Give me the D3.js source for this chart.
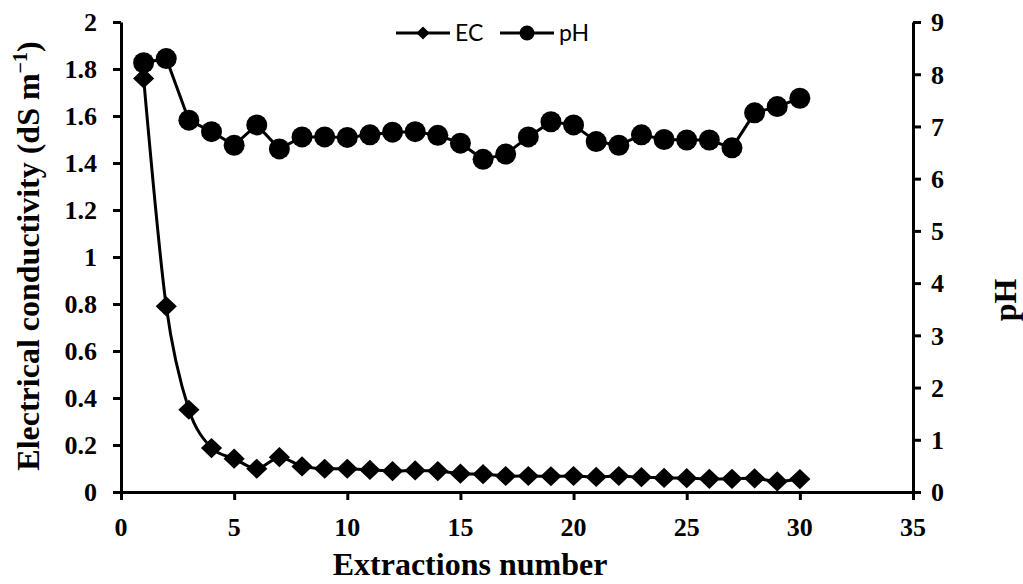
<!DOCTYPE html>
<html>
<head>
<meta charset="utf-8">
<script src="https://cdn.jsdelivr.net/npm/d3@7"></script>
<style>
  html, body { margin: 0; padding: 0; background: #fff; }
  svg { display: block; }
  .lbl { font-family: "Liberation Serif", "Times New Roman", serif; font-weight: bold; fill: #000; }
  .leg { font-family: Lato, "Open Sans", "Liberation Sans", sans-serif; fill: #000; }
</style>
</head>
<body>
<svg id="chart" width="1023" height="584"></svg>
<script>
// Extraction number (x) and measured series
const extractions = d3.range(1, 31);
const ecValues = [1.76, 0.79, 0.35, 0.187, 0.142, 0.099, 0.148, 0.109, 0.099, 0.099,
                  0.094, 0.089, 0.092, 0.089, 0.078, 0.076, 0.068, 0.068, 0.067, 0.068,
                  0.064, 0.068, 0.063, 0.060, 0.059, 0.056, 0.056, 0.058, 0.045, 0.055];
const phValues = [8.22, 8.30, 7.12, 6.90, 6.64, 7.03, 6.57, 6.80, 6.80, 6.79,
                  6.84, 6.89, 6.90, 6.83, 6.68, 6.37, 6.47, 6.80, 7.09, 7.03,
                  6.71, 6.64, 6.84, 6.75, 6.74, 6.74, 6.59, 7.26, 7.38, 7.54];

// Axis ticks
const xTicks = [0, 5, 10, 15, 20, 25, 30, 35];
const ecTicks = [0, 0.2, 0.4, 0.6, 0.8, 1, 1.2, 1.4, 1.6, 1.8, 2];
const phTicks = [0, 1, 2, 3, 4, 5, 6, 7, 8, 9];

const svg = d3.select("#chart");

const x = d3.scaleLinear().domain([0, 35]).range([121, 913]);
const yEc = d3.scaleLinear().domain([0, 2]).range([492, 22]);
const yPh = d3.scaleLinear().domain([0, 9]).range([492, 22]);

// Axis lines and tick marks come from d3.axis; labels are drawn separately
function styleAxis(g) {
  g.selectAll("path.domain").attr("stroke", "#000").attr("stroke-width", 3);
  g.selectAll(".tick line").attr("stroke", "#000").attr("stroke-width", 3);
  g.selectAll(".tick text").remove();
}

const gx = svg.append("g")
  .attr("transform", `translate(0,${yEc(0)})`)
  .call(d3.axisBottom(x).tickValues(xTicks).tickSize(8).tickSizeOuter(0));
styleAxis(gx);

const gl = svg.append("g")
  .attr("transform", `translate(${x(0)},0)`)
  .call(d3.axisLeft(yEc).tickValues(ecTicks).tickSize(8).tickSizeOuter(0));
styleAxis(gl);

const gr = svg.append("g")
  .attr("transform", `translate(${x(35)},0)`)
  .call(d3.axisRight(yPh).tickValues(phTicks).tickSize(8).tickSizeOuter(0));
styleAxis(gr);

// Tick labels
svg.append("g").selectAll("text").data(xTicks).join("text")
  .attr("class", "lbl").attr("font-size", 26)
  .attr("x", d => x(d)).attr("y", yEc(0) + 44)
  .attr("text-anchor", "middle")
  .text(d => d);

svg.append("g").selectAll("text").data(ecTicks).join("text")
  .attr("class", "lbl").attr("font-size", 26)
  .attr("x", x(0) - 24).attr("y", d => yEc(d)).attr("dy", "0.36em")
  .attr("text-anchor", "end")
  .text(d => String(+d.toFixed(1)));

svg.append("g").selectAll("text").data(phTicks).join("text")
  .attr("class", "lbl").attr("font-size", 26)
  .attr("x", x(35) + 18).attr("y", d => yPh(d)).attr("dy", "0.36em")
  .attr("text-anchor", "start")
  .text(d => d);

// Axis titles
svg.append("text")
  .attr("class", "lbl").attr("font-size", 32)
  .attr("transform", "translate(470,575)")
  .attr("text-anchor", "middle")
  .text("Extractions number");

const yTitle = svg.append("text")
  .attr("class", "lbl").attr("font-size", 32)
  .attr("transform", "translate(39,256) rotate(-90)")
  .attr("text-anchor", "middle");
yTitle.append("tspan").text("Electrical conductivity (dS m");
yTitle.append("tspan").attr("dy", -12).attr("font-size", 20).text("\u22121");
yTitle.append("tspan").attr("dy", 12).text(")");

svg.append("text")
  .attr("class", "lbl").attr("font-size", 32)
  .attr("transform", "translate(1016,300) rotate(-90)")
  .attr("text-anchor", "middle")
  .text("pH");

// Series
const ecData = extractions.map((e, i) => ({ x: e, y: ecValues[i] }));
const phData = extractions.map((e, i) => ({ x: e, y: phValues[i] }));

const diamond = d3.symbol().type(d3.symbolDiamond2);

svg.append("path")
  .datum(ecData)
  .attr("fill", "none").attr("stroke", "#000").attr("stroke-width", 3)
  .attr("d", d3.line().x(d => x(d.x)).y(d => yEc(d.y)).curve(d3.curveCardinal.tension(0.1)));

svg.append("path")
  .datum(phData)
  .attr("fill", "none").attr("stroke", "#000").attr("stroke-width", 3)
  .attr("d", d3.line().x(d => x(d.x)).y(d => yPh(d.y)));

svg.append("g").selectAll("path")
  .data(ecData).join("path")
  .attr("transform", d => `translate(${x(d.x)},${yEc(d.y)}) scale(1.05,1)`)
  .attr("d", diamond.size(260)())
  .attr("fill", "#000");

svg.append("g").selectAll("circle")
  .data(phData).join("circle")
  .attr("cx", d => x(d.x)).attr("cy", d => yPh(d.y))
  .attr("r", 10.5)
  .attr("fill", "#000");

// Legend
const legendItems = [
  { label: "EC", x0: 396, marker: "diamond" },
  { label: "pH", x0: 500, marker: "circle" }
];
const legend = svg.append("g");
legendItems.forEach(item => {
  const g = legend.append("g").attr("transform", `translate(${item.x0},33)`);
  g.append("line").attr("x1", 0).attr("x2", 54).attr("stroke", "#000").attr("stroke-width", 3);
  if (item.marker === "diamond") {
    g.append("path").attr("transform", "translate(27,0)").attr("d", diamond.size(110)()).attr("fill", "#000");
  } else {
    g.append("circle").attr("cx", 27).attr("r", 7.5).attr("fill", "#000");
  }
  g.append("text").attr("class", "leg").attr("font-size", 23)
    .attr("x", 59).attr("dy", "0.36em").text(item.label);
});
</script>
</body>
</html>
